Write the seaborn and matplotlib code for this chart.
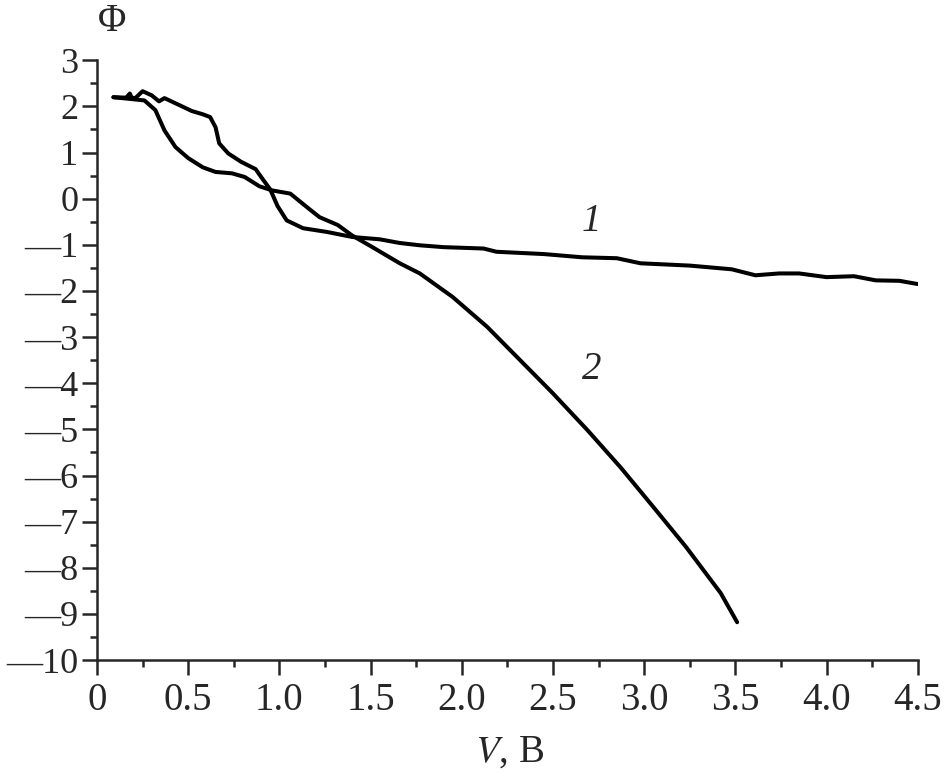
import numpy as np
import pandas as pd
import matplotlib
matplotlib.use("Agg")
import matplotlib.pyplot as plt
import seaborn as sns
from matplotlib.ticker import MultipleLocator, FuncFormatter

# curve 1 (flat tail to 4.5 V)
c1_v = [0.09, 0.16, 0.18, 0.19, 0.21, 0.25, 0.30, 0.34, 0.37, 0.44, 0.52, 0.58,
        0.62, 0.65, 0.67, 0.72, 0.79, 0.87, 0.90, 0.95, 0.99, 1.04, 1.13, 1.26,
        1.40, 1.55, 1.66, 1.77, 1.90, 2.12, 2.19, 2.45, 2.66, 2.85, 2.98, 3.25,
        3.48, 3.61, 3.74, 3.85, 4.00, 4.15, 4.27, 4.40, 4.50]
c1_phi = [2.20, 2.19, 2.28, 2.19, 2.18, 2.33, 2.24, 2.11, 2.18, 2.05, 1.90, 1.83,
          1.77, 1.55, 1.20, 0.98, 0.80, 0.64, 0.47, 0.20, -0.16, -0.47, -0.64, -0.72,
          -0.83, -0.88, -0.96, -1.01, -1.05, -1.08, -1.15, -1.20, -1.27, -1.29, -1.40, -1.45,
          -1.53, -1.66, -1.62, -1.62, -1.70, -1.68, -1.77, -1.78, -1.85]

# curve 2 (falls to -9.2 at 3.5 V)
c2_v = [0.09, 0.26, 0.32, 0.37, 0.43, 0.50, 0.58, 0.65, 0.74, 0.81, 0.89, 0.96,
        1.06, 1.15, 1.22, 1.32, 1.40, 1.51, 1.66, 1.77, 1.95, 2.14, 2.32, 2.50,
        2.69, 2.87, 3.05, 3.23, 3.42, 3.51]
c2_phi = [2.20, 2.13, 1.92, 1.48, 1.12, 0.88, 0.68, 0.58, 0.55, 0.47, 0.27, 0.18,
          0.11, -0.18, -0.40, -0.57, -0.80, -1.05, -1.40, -1.62, -2.13, -2.78, -3.50, -4.22,
          -5.02, -5.82, -6.68, -7.55, -8.55, -9.18]

curve_labels = ["1", "2"]
label_pos = [(2.71, -0.5), (2.71, -3.7)]

df = pd.concat([
    pd.DataFrame({"V": c1_v, "Phi": c1_phi, "curve": "1"}),
    pd.DataFrame({"V": c2_v, "Phi": c2_phi, "curve": "2"}),
])

sns.set_style("ticks")
plt.rcParams["font.family"] = ["Liberation Serif", "DejaVu Serif"]
plt.rcParams["mathtext.fontset"] = "stix"

fig = plt.figure(figsize=(9.51, 7.83), dpi=100)
ax = fig.add_axes([0.102, 0.157, 0.863, 0.766])

sns.lineplot(data=df, x="V", y="Phi", units="curve", estimator=None, sort=False,
             color="black", linewidth=2.9, ax=ax)

ax.set_xlim(0, 4.5)
ax.set_ylim(-10, 3)
sns.despine(ax=ax)
for s in ["left", "bottom"]:
    ax.spines[s].set_linewidth(1.8)

ax.xaxis.set_major_locator(MultipleLocator(0.5))
ax.xaxis.set_minor_locator(MultipleLocator(0.25))
ax.yaxis.set_major_locator(MultipleLocator(1))
ax.yaxis.set_minor_locator(MultipleLocator(0.5))
ax.tick_params(which="major", length=10.5, width=1.8, direction="out")
ax.tick_params(which="minor", length=5, width=1.8, direction="out")
ax.tick_params(axis="x", which="major", labelsize=28, pad=5)
ax.tick_params(axis="y", which="major", labelsize=26, pad=3)


def fmt_x(v, pos):
    return "0" if abs(v) < 1e-9 else f"{v:.1f}"


def fmt_y(v, pos):
    v = int(round(v))
    return f"\u2014{abs(v)}" if v < 0 else f"{v}"


ax.xaxis.set_major_formatter(FuncFormatter(fmt_x))
ax.yaxis.set_major_formatter(FuncFormatter(fmt_y))

ax.set_xlabel("")
ax.set_ylabel("")
fig.text(0.536, 0.04, r"$\mathit{V}$, B", fontsize=28, ha="center", va="center")
fig.text(0.118, 0.972, "\u03a6", fontsize=28, ha="center", va="center")

for lab, (x, y) in zip(curve_labels, label_pos):
    ax.text(x, y, lab, fontsize=28, style="italic", ha="center", va="center")

fig.savefig("out.png", dpi=100, facecolor="white")
